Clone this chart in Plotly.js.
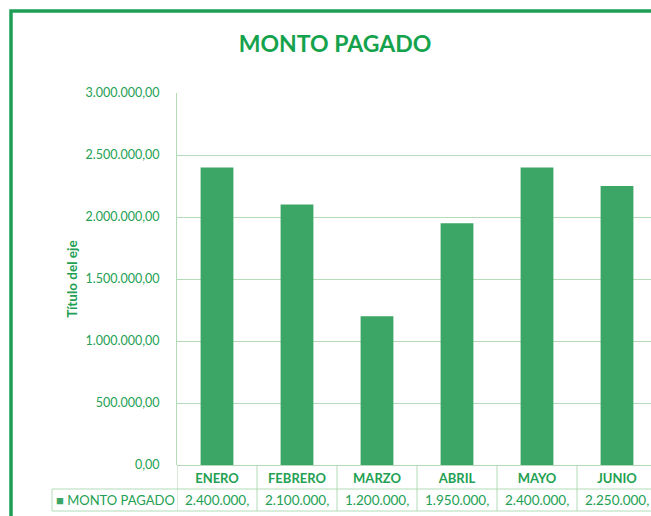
<!DOCTYPE html>
<html>
<head>
<meta charset="utf-8">
<script src="https://cdn.plot.ly/plotly-3.0.1.min.js"></script>
<style>
html,body{margin:0;padding:0;background:#fff;overflow:hidden;}
#chart{width:651px;height:516px;}
</style>
</head>
<body>
<div id="chart"></div>
<script>
const months = ["ENERO", "FEBRERO", "MARZO", "ABRIL", "MAYO", "JUNIO"];
const montoPagado = [2400000, 2100000, 1200000, 1950000, 2400000, 2250000];
const seriesName = "MONTO PAGADO";
const chartTitle = "MONTO PAGADO";
const yAxisTitle = "Título del eje";
const yTickValues = [0, 500000, 1000000, 1500000, 2000000, 2500000, 3000000];

const GREEN_TEXT = "#23a052";
const BAR = "#3ba665";
const GRID = "#b3dbb8";
const FRAME = "#1f9f55";
const FONT = "Lato, 'Open Sans', sans-serif";

// Plot area geometry (pixels)
const W = 651, H = 516;
const L = 177, T = 93, B = 465;
const plotH = B - T, plotW = W - L;
const py = p => -(p - B) / plotH;          // pixel y -> paper y
const px = p => (p - L) / plotW;           // pixel x -> paper x

function fmtTrunc(v) {
  // Excel table cell shows the value cut after the decimal comma
  return v.toLocaleString("de-DE") + ",";
}

const shapes = [];
// Outer chart frame
shapes.push({type: "rect", xref: "paper", yref: "paper",
  x0: px(11), x1: px(W + 20), y0: py(H + 20), y1: py(11),
  line: {color: FRAME, width: 3.5}, layer: "above"});
// Data table: horizontal lines
shapes.push({type: "line", xref: "paper", yref: "paper", x0: px(52), x1: 1.05, y0: py(489), y1: py(489), line: {color: GRID, width: 1}});
shapes.push({type: "line", xref: "paper", yref: "paper", x0: px(52), x1: 1.05, y0: py(511), y1: py(511), line: {color: GRID, width: 1}});
// Data table: vertical lines at category boundaries
shapes.push({type: "line", xref: "paper", yref: "paper", x0: px(52), x1: px(52), y0: py(489), y1: py(511), line: {color: GRID, width: 1}});
for (let i = 0; i <= months.length; i++) {
  shapes.push({type: "line", xref: "x", yref: "paper", x0: i - 0.5, x1: i - 0.5, y0: 0, y1: py(511), line: {color: GRID, width: 1}});
}

const annotations = [];
// Legend key + series name in table
annotations.push({xref: "paper", yref: "paper", x: px(115), y: py(500), showarrow: false,
  text: "<span style='color:" + BAR + "'>■</span> " + seriesName,
  font: {family: FONT, size: 13, color: GREEN_TEXT}, xanchor: "center", yanchor: "middle"});
// Values row
montoPagado.forEach((v, i) => {
  annotations.push({xref: "x", yref: "paper", x: i, y: py(500), showarrow: false,
    text: fmtTrunc(v), font: {family: FONT, size: 13.5, color: GREEN_TEXT},
    xanchor: "center", yanchor: "middle"});
});

const trace = {
  type: "bar",
  x: months.map((m, i) => i),
  y: montoPagado,
  name: seriesName,
  marker: {color: BAR},
  width: 0.41,
  hoverinfo: "x+y"
};

const layout = {
  width: W, height: H,
  margin: {l: L, r: 0, t: T, b: H - B, pad: 0},
  paper_bgcolor: "#ffffff",
  plot_bgcolor: "#ffffff",
  separators: ",.",
  showlegend: false,
  title: {text: "<b>" + chartTitle + "</b>", font: {family: FONT, size: 23, color: "#14a24c"},
    xref: "container", yref: "container", x: 335 / W, y: 1 - 44 / H, xanchor: "center", yanchor: "middle"},
  xaxis: {
    range: [-0.5, plotW / 80 - 0.5],
    tickmode: "array", tickvals: months.map((m, i) => i), ticktext: months.map(m => "<b>" + m + "</b>"),
    tickfont: {family: FONT, size: 13, color: GREEN_TEXT},
    showgrid: false, zeroline: false, showline: false, ticks: "", ticklabelstandoff: 4,
    fixedrange: true
  },
  yaxis: {
    range: [0, 3000000],
    tickmode: "array", tickvals: yTickValues,
    tickformat: ",.2f",
    tickfont: {family: FONT, size: 12.5, color: GREEN_TEXT},
    showgrid: true, gridcolor: GRID, gridwidth: 1,
    zeroline: true, zerolinecolor: GRID, zerolinewidth: 1,
    showline: true, linecolor: GRID, linewidth: 1,
    ticks: "", ticklabelstandoff: 14,
    title: {text: "<b>" + yAxisTitle + "</b>", font: {family: FONT, size: 13.5, color: GREEN_TEXT}, standoff: 4},
    automargin: false,
    fixedrange: true
  },
  shapes: shapes,
  annotations: annotations,
  bargap: 0.59
};

Plotly.newPlot("chart", [trace], layout, {displayModeBar: false, staticPlot: false});
</script>
</body>
</html>
